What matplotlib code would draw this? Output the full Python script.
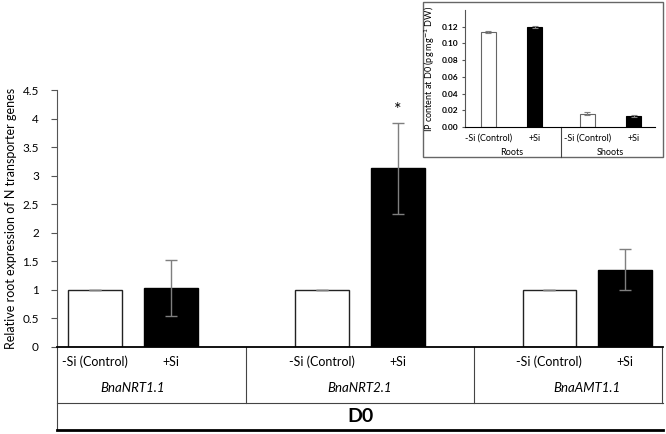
import matplotlib.pyplot as plt
from matplotlib.patches import Rectangle

plt.rcParams['font.family'] = ['Lato', 'DejaVu Sans']

# main chart data
genes = ["BnaNRT1.1", "BnaNRT2.1", "BnaAMT1.1"]
treatments = ["-Si (Control)", "+Si"]
ctrl_vals = [1.0, 1.0, 1.0]
ctrl_err = [0.0, 0.0, 0.0]
si_vals = [1.03, 3.13, 1.35]
si_err = [0.49, 0.80, 0.36]
signif = ["", "*", ""]
day = "D0"
yticks = [0, 0.5, 1, 1.5, 2, 2.5, 3, 3.5, 4, 4.5]

# inset data
tissues = ["Roots", "Shoots"]
ip_ctrl = [0.114, 0.016]
ip_ctrl_err = [0.001, 0.002]
ip_si = [0.120, 0.013]
ip_si_err = [0.001, 0.001]
ip_ticks = [0.00, 0.02, 0.04, 0.06, 0.08, 0.10, 0.12]

fig = plt.figure(figsize=(6.66, 4.34), dpi=100)
ax = fig.add_axes([0.0856, 0.2005, 0.91, 0.592])

step = 3
off = 0.5
w = 0.71
xs = [i * step for i in range(len(genes))]
ecol = "#7f7f7f"
ax.bar([x - off for x in xs], ctrl_vals, w, color="white", edgecolor="#222222", lw=1,
       yerr=ctrl_err, error_kw=dict(ecolor=ecol, capsize=4, elinewidth=1, capthick=1))
ax.bar([x + off for x in xs], si_vals, w, color="black", edgecolor="black", lw=1,
       yerr=si_err, error_kw=dict(ecolor=ecol, capsize=4, elinewidth=1, capthick=1))
for x, v, e, s in zip(xs, si_vals, si_err, signif):
    if s:
        ax.annotate(s, (x + off, v + e), xytext=(0, 3), textcoords="offset points",
                    ha="center", va="bottom", fontsize=13)

ax.set_xlim(-1.0, 7.0)
ax.set_ylim(0, 4.5)
ax.set_yticks(yticks)
ax.set_yticklabels([f"{t:g}" for t in yticks])
ax.tick_params(axis="y", labelsize=8.5, direction="out", length=4, color="#555555", pad=9)
ax.set_xticks([])
for sp in ["top", "right"]:
    ax.spines[sp].set_visible(False)
ax.spines["left"].set_color("#555555")
ax.spines["bottom"].set_color("black")
ax.spines["bottom"].set_linewidth(1.3)
ax.set_ylabel("Relative root expression of N transporter genes", fontsize=9, labelpad=4)

# multi-level category table under the axis
tr = ax.get_xaxis_transform()
xl, xr = ax.get_xlim()
kw = dict(transform=tr, clip_on=False, color="#444444", lw=0.8)
ax.plot([xl, xl], [0, -0.323], **kw)
ax.plot([xr - 0.02, xr - 0.02], [0, -0.218], **kw)
for x in xs[:-1]:
    d = x + step / 2
    ax.plot([d, d], [0, -0.218], **kw)
ax.plot([xl, xr], [-0.218, -0.218], **kw)
ax.plot([xl, xr], [-0.323, -0.323], transform=tr, clip_on=False, color="black", lw=2)
for x, g in zip(xs, genes):
    ax.text(x - off, -0.058, treatments[0], transform=tr, ha="center", va="center", fontsize=9)
    ax.text(x + off, -0.058, treatments[1], transform=tr, ha="center", va="center", fontsize=9)
    ax.text(x, -0.16, g, transform=tr, ha="center", va="center", fontsize=9.5, style="italic")
ax.text((xl + xr) / 2, -0.27, day, transform=tr, ha="center", va="center",
        fontsize=14, fontweight="bold")

# inset
fig.patches.append(Rectangle((423 / 666, 1 - 157 / 434), 240 / 666, 155 / 434,
                             transform=fig.transFigure, fill=True, facecolor="white",
                             edgecolor="#666666", lw=1, zorder=2))
ia = fig.add_axes([0.698, 0.7074, 0.2853, 0.2696], zorder=3)
ia.patch.set_alpha(0)
istep = 2
ioff = 0.47
iw = 0.3
ixs = [i * istep for i in range(len(tissues))]
ia.bar([x - ioff for x in ixs], ip_ctrl, iw, color="white", edgecolor="#666666", lw=0.8,
       yerr=ip_ctrl_err, error_kw=dict(ecolor=ecol, capsize=2, elinewidth=0.8, capthick=0.8))
ia.bar([x + ioff for x in ixs], ip_si, iw, color="black", edgecolor="black", lw=0.8,
       yerr=ip_si_err, error_kw=dict(ecolor=ecol, capsize=2, elinewidth=0.8, capthick=0.8))
ia.set_xlim(-0.94, 2.9)
ia.set_ylim(0, 0.14)
ia.set_yticks(ip_ticks)
ia.set_yticklabels([f"{t:.2f}" for t in ip_ticks], fontweight="bold")
ia.tick_params(axis="y", labelsize=6, length=2, pad=3, color="#555555")
ia.set_xticks([])
for sp in ["top", "right"]:
    ia.spines[sp].set_visible(False)
ia.spines["left"].set_color("#555555")
ia.spines["left"].set_linewidth(0.8)
ia.spines["bottom"].set_linewidth(0.8)
ia.set_ylabel("IP content at D0 (pg mg$^{-1}$ DW)", fontsize=6.5, labelpad=3)
itr = ia.get_xaxis_transform()
ia.plot([1, 1], [0, -0.26], transform=itr, clip_on=False, color="#444444", lw=0.8)
for x, t in zip(ixs, tissues):
    ia.text(x - ioff, -0.095, treatments[0], transform=itr, ha="center", va="center", fontsize=6.5)
    ia.text(x + ioff, -0.095, treatments[1], transform=itr, ha="center", va="center", fontsize=6.5)
    ia.text(x, -0.215, t, transform=itr, ha="center", va="center", fontsize=6.5)

fig.savefig("out.png", dpi=100)
